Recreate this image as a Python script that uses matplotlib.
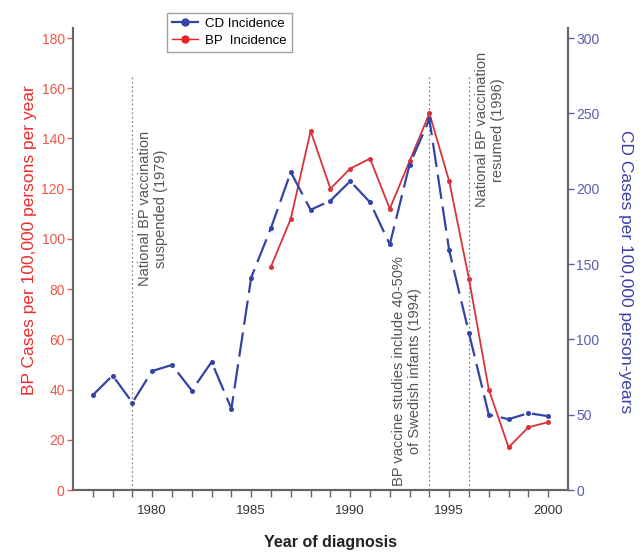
import matplotlib
matplotlib.use("Agg")
import matplotlib.pyplot as plt
from matplotlib.lines import Line2D

plt.rcParams['font.family'] = ['Liberation Sans', 'DejaVu Sans']

# data
years_cd = list(range(1977, 2001))
cd_incidence = [63, 76, 58, 79, 83, 66, 85, 54, 141, 174, 211, 186,
                192, 205, 191, 163, 216, 246, 159, 104, 50, 47, 51, 49]
years_bp = list(range(1986, 2001))
bp_incidence = [89, 108, 143, 120, 128, 132, 112, 131, 150, 123, 84, 40, 17, 25, 27]

events = [1979, 1994, 1996]
event_text = ["National BP vaccination\nsuspended (1979)",
              "BP vaccine studies include 40-50%\nof Swedish infants (1994)",
              "National BP vaccination\nresumed (1996)"]

red = '#d8323a'
blue = '#3444a6'
red_tick = '#f2554a'
blue_tick = '#5a5cb4'
spine_col = '#666666'

fig = plt.figure(figsize=(6.43, 5.54), dpi=100)
ax = fig.add_axes([73/643, 64/554, 495/643, 462/554])
ax2 = ax.twinx()

ax.plot(years_bp, bp_incidence, color=red, lw=1.3, marker='o', ms=2.6, zorder=3)
ax2.plot(years_cd, cd_incidence, color=blue, lw=1.6, marker='o', ms=2.6,
         dashes=(11, 3.5), zorder=2)

# vertical event lines
for x in events:
    ax.plot([x, x], [0, 165], color='#888888', lw=0.9, ls=(0, (1.5, 2)), zorder=1)

# annotations
ax.text(1980.05, 112, event_text[0], rotation=90, ha='center', va='center',
        fontsize=10.5, color='#555555', multialignment='center')
ax.text(1992.85, 47.5, event_text[1], rotation=90, ha='center', va='center',
        fontsize=10.5, color='#555555', multialignment='center')
ax.text(1997.05, 143.5, event_text[2], rotation=90, ha='center', va='center',
        fontsize=10.5, color='#555555', multialignment='center')

ax.set_xlim(1976, 2001)
ax.set_ylim(0, 184)
ax2.set_ylim(0, 184 * 300 / 180)

ax.set_xticks(range(1977, 2001))
ax.set_xticklabels([str(y) if y % 5 == 0 else '' for y in range(1977, 2001)])
ax.set_yticks(range(0, 181, 20))
ax2.set_yticks(range(0, 301, 50))

for a in (ax, ax2):
    a.spines['top'].set_visible(False)
    for s in ('left', 'right', 'bottom'):
        a.spines[s].set_color(spine_col)
        a.spines[s].set_linewidth(1.5)

ax.tick_params(axis='x', length=5, width=1, color=spine_col, labelsize=9.5,
               labelcolor='#333333', pad=6)
ax.tick_params(axis='y', length=4, width=1, color=red_tick, labelsize=10,
               labelcolor=red_tick, pad=2)
ax2.tick_params(axis='y', length=4, width=1, color=blue_tick, labelsize=10,
                labelcolor=blue_tick, pad=2)

fig.text(30/643, 1 - 240/554, 'BP Cases per 100,000 persons per year',
         rotation=90, ha='center', va='center', fontsize=12.5, color='#ee2a2a')
fig.text(625/643, 1 - 272/554, 'CD Cases per 100,000 person-years',
         rotation=270, ha='center', va='center', fontsize=12.5, color='#3d3fa6')
fig.text(331/643, 1 - 543/554, 'Year of diagnosis', ha='center', va='center',
         fontsize=11.5, fontweight='bold', color='#222222')

handles = [Line2D([], [], color=blue, lw=1.6, marker='o', ms=5),
           Line2D([], [], color='#ee2222', lw=1.0, marker='o', ms=5)]
leg = fig.legend(handles, ['CD Incidence', 'BP  Incidence'], loc='upper left',
                 bbox_to_anchor=(160/643, 1 - 6/554), fontsize=9.5,
                 frameon=True, fancybox=False, handlelength=2.0,
                 borderpad=0.4, labelspacing=0.35, handletextpad=0.5)
leg.get_frame().set_edgecolor('#888888')
leg.get_frame().set_linewidth(1.0)

fig.savefig('out.png', dpi=100)
